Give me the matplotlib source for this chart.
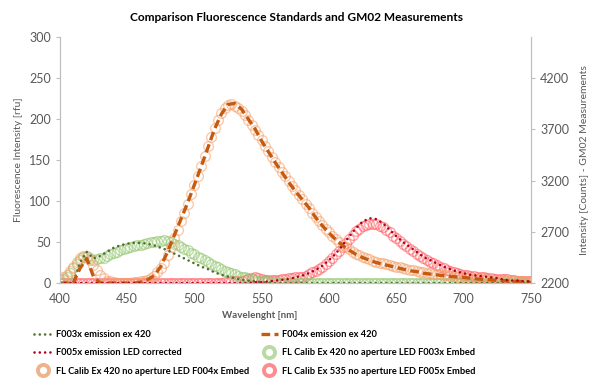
import numpy as np
import matplotlib
matplotlib.use("Agg")
import matplotlib.pyplot as plt
from matplotlib.lines import Line2D

plt.rcParams["font.family"] = ["Lato", "DejaVu Sans"]

# wavelength grids [nm]
wl = np.arange(400, 751, 5)          # reference standards
wl_gm = np.arange(400, 750.1, 2.5)   # GM02 measurements

# reference standards [rfu] (left axis)
f003x = [0, 0, 0, 25, 38, 30, 33, 38, 43, 46, 48, 49, 49, 48, 46, 43, 40, 36, 32, 28,
         24, 20, 17, 13, 10, 8, 6, 4, 3, 2, 1, 0.5, 0, 0, 0, 0, 0, 0, 0, 0,
         0, 0, 0, 0, 0, 0, 0, 0, 0, 0, 0, 0, 0, 0, 0, 0, 0, 0, 0, 0,
         0, 0, 0, 0, 0, 0, 0, 0, 0, 0, 0]
f004x = [0, 0, 0, 18, 30, 8, 0, 0, 0, 0, 0, 0, 1, 4, 9, 20, 38, 58, 78, 98,
         120, 142, 165, 188, 206, 218, 219, 212, 200, 188, 173, 160, 147, 135, 123, 112, 102, 92, 80, 70,
         61, 53, 46, 40, 35, 31, 28, 25, 23, 21, 19, 17, 15, 14, 12, 11, 10, 9, 8, 7.5,
         7, 6, 5, 4.5, 4, 3, 3, 2, 2, 1.5, 1]
f005x = [0, 0, 0, 0, 0, 0, 0, 0, 0, 0, 0, 0, 0, 0, 0, 0, 0, 0, 0, 0,
         0, 0, 0, 0, 0, 0, 0, 0, 0, 1, 1, 2, 3, 4, 5, 7, 9, 12, 16, 21,
         28, 36, 46, 57, 67, 75, 79, 78, 73, 65, 57, 50, 44, 38, 32, 28, 24, 20, 17, 14,
         12, 10, 9, 8, 7, 6, 4, 3, 3, 2, 2]

# GM02 measurements [counts] (right axis)
gm_f003x = [2224, 2240, 2264, 2296, 2344, 2384, 2424, 2456, 2464, 2448, 2424, 2432, 2440, 2448, 2464, 2480,
            2496, 2504, 2520, 2536, 2544, 2552, 2560, 2568, 2576, 2584, 2592, 2600, 2600, 2608, 2608, 2616,
            2608, 2600, 2584, 2568, 2552, 2536, 2520, 2496, 2480, 2456, 2440, 2424, 2408, 2384, 2368, 2352,
            2336, 2320, 2312, 2296, 2288, 2272, 2264, 2256, 2248, 2240, 2232, 2224, 2224, 2216, 2216, 2208,
            2208,
            2204, 2202, 2200, 2204, 2200, 2202, 2200, 2204, 2200, 2202, 2200, 2200, 2204, 2200, 2202, 2200, 2200, 2202, 2200,
            2204, 2200, 2202, 2200, 2200, 2204, 2200, 2202, 2200, 2200, 2202, 2200, 2204, 2200, 2200, 2202, 2200, 2200, 2202,
            2200, 2200, 2204, 2200, 2200, 2202, 2200, 2200, 2202, 2200, 2200, 2200, 2202, 2200, 2200, 2200, 2202, 2200, 2200,
            2200, 2202, 2200, 2200, 2200, 2200, 2202, 2200, 2200, 2200, 2200, 2200, 2202, 2200, 2200, 2200, 2200, 2200, 2200]
gm_f004x = [2240, 2256, 2280, 2320, 2360, 2408, 2440, 2464, 2456, 2424, 2376, 2328, 2280, 2248, 2224, 2216,
            2208, 2200, 2200, 2200, 2200, 2200, 2208, 2208, 2216, 2224, 2232, 2248, 2272, 2304, 2344, 2400,
            2472, 2552, 2640, 2720, 2808, 2888, 2976, 3064, 3160, 3248, 3344, 3440, 3536, 3624, 3712, 3792,
            3856, 3904, 3936, 3944, 3928, 3904, 3880, 3840, 3792, 3744, 3696, 3640, 3592, 3536, 3488, 3432,
            3384, 3336, 3288, 3240, 3192, 3144, 3104, 3056, 3016, 2976, 2936, 2888, 2848, 2808, 2768, 2728,
            2696, 2664, 2632, 2600, 2576, 2552, 2528, 2504, 2488, 2472, 2456, 2440, 2432, 2416, 2408, 2400,
            2392, 2384, 2376, 2368, 2360, 2352, 2344, 2336, 2328, 2324, 2320, 2312, 2304, 2300, 2296, 2292,
            2288, 2284, 2280, 2276, 2272, 2268, 2264, 2260, 2256, 2252, 2248, 2244, 2240, 2240, 2240, 2236,
            2232, 2228, 2224, 2224, 2224, 2220, 2216, 2216, 2216, 2216, 2216, 2212, 2208]
gm_f005x = [2200, 2202, 2200, 2200, 2204, 2200, 2200, 2202, 2200, 2200, 2204, 2200, 2200, 2202, 2200, 2204,
            2200, 2200, 2202, 2204, 2200, 2202, 2200, 2204, 2202, 2200, 2200, 2202, 2200, 2204, 2200, 2200,
            2202, 2200, 2200, 2204, 2200, 2202, 2200, 2200, 2202, 2200, 2204, 2200, 2202, 2200, 2200, 2204,
            2202,
            2208, 2208, 2216, 2216, 2224, 2224, 2232, 2240, 2248, 2256, 2248, 2240, 2232, 2232, 2232, 2232,
            2232, 2240, 2240, 2248, 2248, 2256, 2256, 2264, 2272, 2288, 2304, 2320, 2336, 2360, 2384, 2416,
            2448, 2480, 2512, 2552, 2592, 2632, 2672, 2704, 2728, 2752, 2768, 2776, 2776, 2776, 2760, 2744,
            2720, 2696, 2664, 2640, 2608, 2584, 2560, 2536, 2512, 2488, 2464, 2448, 2424, 2408, 2392, 2376,
            2360, 2344, 2328, 2320, 2304, 2296, 2288, 2280, 2276, 2272, 2268, 2264, 2260, 2256, 2252, 2248,
            2244, 2240, 2240, 2240, 2236, 2232, 2228, 2224, 2224, 2224, 2220, 2216]

grey = "#595959"
fig = plt.figure(figsize=(5.92, 3.82), dpi=100)
ax = fig.add_axes([0.101, 0.259, 0.796, 0.644])
ax2 = ax.twinx()

# measurements as open circles on the secondary axis (orange drawn last)
mk = dict(marker="o", linestyle="none", markersize=7, markerfacecolor="none",
          markeredgewidth=1.0, alpha=0.55)
ax2.plot(wl_gm, gm_f005x, markeredgecolor="#ff5a60", **mk)
ax2.plot(wl_gm, gm_f003x, markeredgecolor="#8fc46a", **mk)
ax2.plot(wl_gm, gm_f004x, markeredgecolor="#f4a06a", **mk)

# standards as lines on the primary axis, drawn above the circles
dot_green = dict(color="#4f6f2f", linestyle=(0, (0.01, 2.0)), linewidth=1.9,
                 dash_capstyle="round")
dash_orange = dict(color="#c55a11", linestyle=(0, (2.6, 1.3)), linewidth=2.4)
dot_red = dict(color="#b00020", linestyle=(0, (0.01, 2.0)), linewidth=1.9,
               dash_capstyle="round")
ax.plot(wl, f003x, **dot_green)
ax.plot(wl, f004x, **dash_orange)
ax.plot(wl, f005x, **dot_red)
ax.set_zorder(ax2.get_zorder() + 1)
ax.patch.set_visible(False)

ax.set_xlim(400, 750)
ax.set_ylim(0, 300)
ax2.set_ylim(2200, 4600)
ax.set_xticks(np.arange(400, 751, 50))
ax.set_yticks(np.arange(0, 301, 50))
ax2.set_yticks(np.arange(2200, 4201, 500))

for a in (ax, ax2):
    for s in a.spines.values():
        s.set_color("#bfbfbf")
    a.spines["top"].set_visible(False)
ax.tick_params(axis="x", length=0, labelsize=9, labelcolor=grey, pad=7)
ax.tick_params(axis="y", length=3, color="#bfbfbf", labelsize=9, labelcolor=grey)
ax2.tick_params(axis="y", length=3, color="#bfbfbf", labelsize=9, labelcolor=grey)

ax.set_xlabel("Wavelenght [nm]", fontsize=7, color=grey, fontweight="bold")
ax.xaxis.set_label_coords(0.425, -0.115)
ax.set_ylabel("Fluorescence Intensity [rfu]", fontsize=7.5, color=grey, labelpad=4)
ax2.set_ylabel("Intensity [Counts] - GM02 Measurements", fontsize=7.5, color=grey, labelpad=8)
fig.suptitle("Comparison Fluorescence Standards and GM02 Measurements",
             fontsize=8.6, fontweight="bold", y=0.968)

# legend: two columns, filled column by column
def circle(color):
    return Line2D([], [], marker="o", linestyle="none", markersize=8,
                  markerfacecolor="none", markeredgewidth=2.8,
                  markeredgecolor=color, alpha=0.8)

leg_h = [Line2D([], [], **dot_green), Line2D([], [], **dot_red), circle("#e8a070"),
         Line2D([], [], **dash_orange), circle("#a9d18e"), circle("#ff6f73")]
labels = ["F003x emission ex 420", "F005x emission LED corrected",
          "FL Calib Ex 420 no aperture LED F004x Embed",
          "F004x emission ex 420", "FL Calib Ex 420 no aperture LED F003x Embed",
          "FL Calib Ex 535 no aperture LED F005x Embed"]
fig.legend(leg_h, labels, ncol=2, loc="upper left", bbox_to_anchor=(0.058, 0.136),
           frameon=False, handlelength=1.9, columnspacing=1.2,
           labelspacing=1.0, handletextpad=0.45, borderpad=0, borderaxespad=0,
           prop={"size": 6.7, "weight": "bold"})

fig.savefig("out.png", dpi=100)
